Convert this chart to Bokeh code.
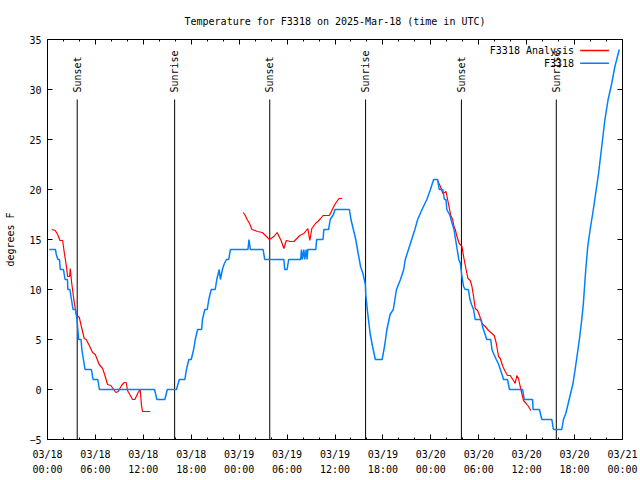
import math
from bokeh.plotting import figure
from bokeh.models import Range1d, FixedTicker, LinearAxis
from bokeh.embed import file_html
from bokeh.resources import INLINE
from bokeh.core.properties import value

FONT = "DejaVu Sans Mono"
NAN = float("nan")

# Observations (F3318): hours since 2025-03-18 00:00 UTC, degrees F
obs_hours = [0.23, 1.0, 1.1, 1.3, 1.5, 1.6, 2.0, 2.1, 2.2, 2.5, 2.55, 2.8, 2.9, 3.0, 3.1, 3.2, 3.5, 3.6,
             3.7, 3.75, 3.9, 4.2, 4.3, 4.5, 4.7, 5.5, 5.7, 6.3, 6.5, 13.4, 13.7, 14.7, 15.0, 16.15,
             16.5, 17.2, 17.4, 17.7, 18.0, 18.3, 18.5, 18.8, 19.3, 19.4, 19.7, 20.0, 20.2, 20.5, 21.0,
             21.2, 21.5, 21.65, 21.9, 22.1, 22.4, 22.7, 22.9, 25.1, 25.23, 25.4, 27.0, 27.2, 29.6,
             29.7, 30.0, 30.2, 31.7, 31.8, 31.9, 32.1, 32.2, 32.4, 32.5, 32.6, 33.6, 33.7, 34.5,
             34.6, 35.2, 35.4, 35.8, 36.0, 37.8, 38.0, 38.3, 38.6, 38.9, 39.2, 39.5, 39.8, 39.85,
             40.1, 40.4, 40.7, 41.05, 41.9, 42.2, 42.5, 42.9, 43.3, 43.7, 44.2, 44.6, 44.8, 45.2,
             45.6, 46.0, 46.35, 46.9, 47.5, 47.95, 48.35, 48.85, 49.05, 49.5, 49.7, 49.9, 50.0,
             50.4, 50.6, 50.9, 51.1, 51.3, 51.5, 51.7, 51.9, 52.1, 52.3, 52.7, 52.9, 53.1, 53.35,
             53.55, 54.3, 54.5, 54.8, 55.0, 55.5, 55.65, 55.85, 56.2, 56.5, 56.7, 57.0, 57.1, 57.6,
             57.85, 59.5, 59.7, 60.75, 60.8, 61.6, 61.9, 63.15, 63.35, 64.4, 64.6, 64.9, 65.2, 65.5,
             65.8, 66.05, 66.3, 66.6, 66.9, 67.1, 67.4, 67.65, 67.95, 68.35, 69.0, 69.4, 69.8, 70.2,
             70.65, 71.05, 71.6]
obs_temp = [14, 14, 13.5, 13, 13, 12, 12, 11.5, 11, 11, 10, 10, 9.5, 9, 8.5, 8, 8, 7.5,
            7, 6.5, 5, 5, 4, 3, 2, 2, 1, 1, 0, 0, -1, -1, 0, 0,
            1, 1, 2, 3, 3, 4, 5, 6, 6, 7, 8, 8, 9, 10, 10,
            11, 12, 11, 12, 12.5, 13, 13, 14, 14, 15, 14, 14, 13, 13,
            12, 12, 13, 13, 14, 13, 14, 13, 14, 13, 14, 14, 15, 15,
            16, 16, 17, 17.5, 18, 18, 17, 16, 15, 13.6, 12.3, 11.6, 10.5, 9.5,
            7.6, 5.6, 4.3, 3, 3, 4.3, 6, 7.5, 8, 10, 11, 12, 13, 14,
            15, 16, 17, 18, 19, 20, 21, 21, 20, 20, 19, 19, 18,
            17.4, 16.8, 16, 15, 14, 13, 12.6, 11.3, 10.3, 10, 10, 9, 8.5, 8,
            7, 7, 6.2, 5.5, 5, 5, 4, 3.6, 3, 2.5, 2, 1.3, 1, 1,
            0, 0, -1, -1, -2, -2, -3, -3, -4, -4, -3, -2.4, -1.4, -0.4,
            0.6, 1.9, 3.3, 5, 7, 8.6, 12, 14.3, 16, 18, 21.6, 24.3, 27, 29,
            30.6, 32.3, 34]

# Analysis (F3318 Analysis); NaN marks gaps
ana_hours = [0.52, 0.98, 1.27, 1.56, 1.9, 2.1, 2.35, 2.52, 2.77, 2.85, 3.02, 3.35, 3.6, 3.98, 4.27,
             4.6, 4.85, 5.23, 5.65, 5.98, 6.48, 6.9, 7.19, 7.52, 7.94, 8.56, 8.85, 9.27, 9.6, 9.85,
             10.02, 10.65, 10.94, 11.35, 11.6, 11.77, 11.9, 12.85,
             18.0,
             24.5, 24.7, 25.0, 25.3, 25.6, 26.3, 26.9, 27.3, 27.8, 28.35, 28.75, 29.25, 29.6, 29.9,
             30.4, 30.85, 31.6, 32.1, 32.6, 32.85, 33.1, 33.55, 33.85, 34.2, 34.5, 35.3, 35.6,
             36.05, 36.5, 36.9,
             42.0,
             48.85, 49.2, 49.5, 49.9, 50.2, 50.5, 50.73, 50.9, 51.06, 51.27, 51.56, 51.9, 52.1,
             52.44, 52.65, 52.94, 53.15, 53.35, 53.56, 53.85, 54.1, 54.4, 54.81, 55.23, 55.65,
             55.94, 56.2, 56.48, 56.69, 57.02, 57.31, 57.6, 57.94, 58.35, 58.56, 58.77, 58.98,
             59.19, 59.4, 59.6, 59.94, 60.23, 60.52]
ana_temp = [16.0, 15.9, 15.5, 14.9, 14.9, 13.7, 12.4, 11.3, 11.3, 12.1, 10.7, 8.7, 7.5, 7.2, 6.2,
            5.1, 5.0, 4.4, 3.7, 3.5, 2.5, 2.1, 1.4, 0.5, 0.4, -0.3, -0.2, 0.4, 0.7, 0.7,
            -0.1, -1.0, -1.0, -0.3, 0.0, -1.6, -2.2, -2.2,
            NAN,
            17.7, 17.5, 17.0, 16.6, 16.0, 15.8, 15.7, 15.4, 15.0, 15.3, 15.7, 14.9, 14.1, 14.9,
            14.8, 14.8, 15.4, 15.6, 16.1, 14.9, 16.1, 16.6, 16.8, 17.1, 17.4, 17.4, 17.9,
            18.6, 19.1, 19.1,
            NAN,
            20.9, 20.3, 19.6, 19.8, 18.6, 17.4, 17.0, 16.3, 16.0, 15.3, 14.6, 14.3, 13.3,
            11.9, 11.1, 10.9, 10.3, 9.3, 8.1, 7.9, 7.4, 6.6, 6.3, 5.9, 5.6,
            5.4, 4.6, 3.3, 3.1, 2.3, 1.8, 1.4, 1.4, 0.9, 0.6, 1.4, 1.1,
            0.3, -0.4, -1.1, -1.4, -1.7, -2.1]

event_hours = [3.72, 15.92, 27.83, 39.83, 51.83, 63.71]
event_labels = ["Sunset", "Sunrise", "Sunset", "Sunrise", "Sunset", "Sunrise"]

x_ticks = [0, 6, 12, 18, 24, 30, 36, 42, 48, 54, 60, 66, 72]
x_tick_labels = ["03/18\n00:00", "03/18\n06:00", "03/18\n12:00", "03/18\n18:00",
                 "03/19\n00:00", "03/19\n06:00", "03/19\n12:00", "03/19\n18:00",
                 "03/20\n00:00", "03/20\n06:00", "03/20\n12:00", "03/20\n18:00",
                 "03/21\n00:00"]
x_minor = [h for h in range(0, 73, 2) if h % 6 != 0]
y_ticks = [-5, 0, 5, 10, 15, 20, 25, 30, 35]

series_names = ["F3318 Analysis", "F3318"]
series_colors = ["#ff0000", "#0080ff"]

p = figure(width=640, height=480, x_range=Range1d(0, 72), y_range=Range1d(-5, 35),
           output_backend="svg", toolbar_location=None,
           min_border_left=47, min_border_right=18, min_border_top=39, min_border_bottom=41,
           title="Temperature for F3318 on 2025-Mar-18 (time in UTC)")
p.title.text_font = FONT
p.title.text_font_size = "10px"
p.title.text_font_style = "normal"
p.title.text_color = "black"
p.title.align = "center"
p.title.standoff = 25
p.xgrid.visible = False
p.ygrid.visible = False
p.outline_line_color = "black"
p.outline_line_alpha = 1.0
p.outline_line_width = 1
p.background_fill_color = "white"
p.border_fill_color = "white"

for ax in p.xaxis:
    ax.ticker = FixedTicker(ticks=x_ticks, minor_ticks=x_minor)
    ax.major_label_overrides = {t: l for t, l in zip(x_ticks, x_tick_labels)}
    ax.major_label_text_line_height = 1.45
    ax.major_label_standoff = 9
for ax in p.yaxis:
    ax.ticker = FixedTicker(ticks=y_ticks, minor_ticks=[])
    ax.axis_label = "degrees F"
    ax.axis_label_text_font = FONT
    ax.axis_label_text_font_size = "10px"
    ax.axis_label_text_font_style = "normal"
    ax.axis_label_text_color = "black"
    ax.axis_label_standoff = 10
    ax.major_label_standoff = 6

for ax in list(p.xaxis) + list(p.yaxis):
    ax.major_label_text_font = FONT
    ax.major_label_text_font_size = "10px"
    ax.major_label_text_color = "black"
    ax.major_tick_in = 5
    ax.major_tick_out = 0
    ax.minor_tick_in = 2
    ax.minor_tick_out = 0
    ax.axis_line_color = "black"
    ax.major_tick_line_color = "black"
    ax.minor_tick_line_color = "black"

top = LinearAxis(ticker=FixedTicker(ticks=x_ticks, minor_ticks=x_minor))
right = LinearAxis(ticker=FixedTicker(ticks=y_ticks, minor_ticks=[]))
for ax in (top, right):
    ax.major_label_text_alpha = 0
    ax.major_label_text_font_size = "1px"
    ax.major_label_standoff = 0
    ax.major_tick_in = 5
    ax.major_tick_out = 0
    ax.minor_tick_in = 2
    ax.minor_tick_out = 0
    ax.axis_line_color = None
    ax.major_tick_line_color = "black"
    ax.minor_tick_line_color = "black"
p.add_layout(top, "above")
p.add_layout(right, "right")

# Sunrise / sunset markers
p.segment(x0=event_hours, y0=[29] * len(event_hours), x1=event_hours, y1=[-5] * len(event_hours),
          line_color="black", line_width=1)
p.text(x=event_hours, y=[29.7] * len(event_hours), text=event_labels, angle=math.pi / 2,
       text_align="left", text_baseline="middle", text_font=value(FONT),
       text_font_size="10px", text_color="black")

# Data lines
p.line(ana_hours, ana_temp, line_color=series_colors[0], line_width=1.2)
p.line(obs_hours, obs_temp, line_color=series_colors[1], line_width=1.5)

# Legend (gnuplot style: text then line sample)
leg_y = [33.9, 32.63]
p.text(x=[65.94, 65.94], y=leg_y, text=series_names, text_align="right", text_baseline="middle",
       text_font=value(FONT), text_font_size="10px", text_color="black")
p.segment(x0=[66.7, 66.7], y0=leg_y, x1=[70.3, 70.3], y1=leg_y, line_color=series_colors,
          line_width=1.5)

open("out.html", "w").write(file_html(p, INLINE))
